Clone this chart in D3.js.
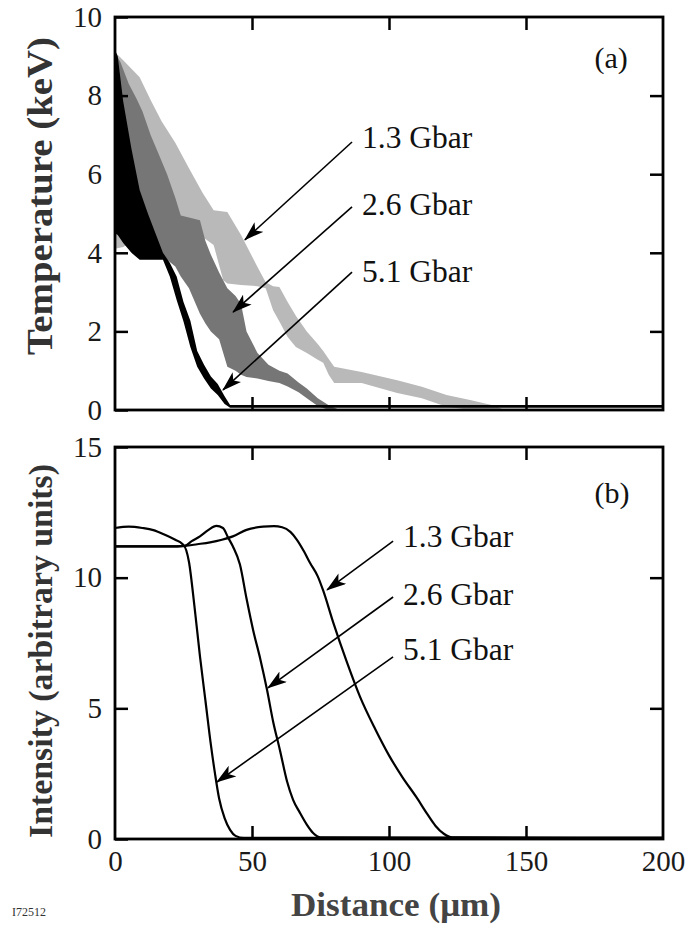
<!DOCTYPE html>
<html>
<head>
<meta charset="utf-8">
<script src="https://cdn.jsdelivr.net/npm/d3@7"></script>
<style>
body { margin: 0; background: #fff; }
svg { display: block; }
</style>
</head>
<body>
<script>
// (a) temperature bands, distance in um, temperature in keV
var band13Dist  = [0, 3, 9, 13, 17, 22, 27, 32, 36, 39.5, 41, 46, 52, 55, 57.7, 60, 63, 66, 70, 74, 76, 78, 80, 90, 103, 112, 121, 130, 139, 142];
var band13Upper = [9.1, 8.9, 8.47, 7.89, 7.35, 6.8, 6.15, 5.52, 5.08, 5.05, 5.04, 4.45, 3.64, 3.25, 3.15, 3.13, 2.75, 2.4, 2.0, 1.68, 1.5, 1.3, 1.1, 0.97, 0.76, 0.59, 0.38, 0.25, 0.1, 0];
var band13Lower = [4.1, 4.15, 4.4, 4.6, 4.7, 4.7, 4.6, 4.4, 4.2, 3.3, 3.22, 3.18, 3.15, 3.1, 2.54, 2.25, 1.86, 1.6, 1.45, 1.28, 1.2, 0.9, 0.69, 0.69, 0.43, 0.3, 0.08, 0, 0, 0];

var band26Dist  = [0, 2, 5, 8, 10, 13, 16, 19, 22, 24, 27, 31, 33, 35, 38, 41, 44, 46, 48, 52, 56, 60, 63, 67, 70, 74, 78, 82];
var band26Upper = [9.1, 8.85, 8.3, 7.9, 7.6, 7.0, 6.5, 6.0, 5.4, 4.95, 4.9, 4.83, 4.3, 3.95, 3.5, 3.1, 2.9, 2.7, 2.0, 1.45, 1.15, 1.0, 0.93, 0.7, 0.55, 0.3, 0.12, 0];
var band26Lower = [4.5, 4.45, 4.3, 4.15, 4.1, 4.0, 3.9, 3.82, 3.65, 3.4, 3.1, 2.45, 2.2, 2.0, 1.8, 1.1, 1.0, 0.9, 0.84, 0.8, 0.74, 0.69, 0.6, 0.45, 0.3, 0.1, 0, 0];

var band51Dist  = [0, 1, 3, 6, 9, 12, 15, 17.5, 20, 22.5, 25, 27.5, 30, 32.5, 35, 37.5, 40, 42, 200];
var band51Upper = [9.16, 9.0, 7.85, 6.65, 5.6, 5.0, 4.45, 4.0, 3.75, 3.4, 2.75, 2.27, 1.5, 1.15, 0.85, 0.66, 0.35, 0.13, 0.13];
var band51Lower = [4.5, 4.45, 4.25, 4.0, 3.82, 3.82, 3.82, 3.82, 3.4, 2.8, 2.25, 1.6, 1.1, 0.8, 0.55, 0.38, 0.15, 0.06, 0.06];

// (b) intensity profiles
var int13Dist = [0, 10, 20, 25.5, 30, 34.7, 39, 43, 48, 54, 58, 61, 64, 66.4, 69, 71.2, 74, 76, 79.6, 84.7, 89.4, 95, 100, 105, 110, 114, 117, 120, 123, 200];
var int13     = [11.2, 11.2, 11.2, 11.22, 11.28, 11.35, 11.45, 11.58, 11.83, 11.95, 11.97, 11.93, 11.75, 11.45, 11.0, 10.56, 10.05, 9.5, 8.3, 6.75, 5.45, 4.2, 3.2, 2.35, 1.6, 0.95, 0.5, 0.2, 0.06, 0.04];
var int26Dist = [0, 10, 20, 25.5, 28, 31, 34, 37, 39.4, 41.2, 43, 45.6, 48, 50.4, 53, 55.5, 57.7, 60.2, 62.8, 65, 67.5, 70, 72.3, 75, 200];
var int26     = [11.2, 11.2, 11.2, 11.22, 11.4, 11.58, 11.82, 11.98, 11.9, 11.55, 11.2, 10.5, 9.2, 8.0, 6.9, 5.7, 4.5, 3.4, 2.2, 1.5, 1.0, 0.55, 0.23, 0.06, 0.04];
var int51Dist = [0, 5, 10, 14, 18, 22, 24.5, 26, 27, 29, 31, 33, 35, 36.5, 38, 40, 42, 44, 47, 200];
var int51     = [11.9, 11.95, 11.9, 11.82, 11.65, 11.45, 11.3, 11.05, 10.6, 8.9, 7.0, 5.3, 3.6, 2.5, 1.55, 0.8, 0.35, 0.12, 0.04, 0.04];

var seriesNames = ["1.3 Gbar", "2.6 Gbar", "5.1 Gbar"];
var xTicks = [0, 50, 100, 150, 200];
var tempTicks = [0, 2, 4, 6, 8, 10];
var intTicks = [0, 5, 10, 15];

// arrow [startDist, startVal, tipDist, tipVal] per series
var tempArrows = [[86.5, 6.82, 47.4, 4.33], [86.5, 5.17, 43.1, 2.49], [86.5, 3.51, 39.4, 0.51]];
var tempLabelY = [6.67, 4.96, 3.26];
var intArrows = [[101.5, 11.4, 77.4, 9.53], [101.5, 9.26, 55.8, 5.78], [101.5, 6.97, 37.2, 2.18]];
var intLabelY = [11.17, 8.96, 6.85];

var W = 690, H = 939;
var left = 115, right = 663;
var serif = "'Liberation Serif', 'Times New Roman', serif";

var svg = d3.select("body").append("svg")
    .attr("width", W)
    .attr("height", H)
    .style("background", "#fff");

var defs = svg.append("defs");
defs.append("marker")
    .attr("id", "head")
    .attr("viewBox", "0 0 20 13")
    .attr("refX", 19)
    .attr("refY", 6.5)
    .attr("markerWidth", 20)
    .attr("markerHeight", 13)
    .attr("markerUnits", "userSpaceOnUse")
    .attr("orient", "auto")
  .append("path")
    .attr("d", "M0,0 L20,6.5 L0,13 L5,6.5 Z")
    .attr("fill", "#000");

var x = d3.scaleLinear().domain([0, 200]).range([left, right]);
var yT = d3.scaleLinear().domain([0, 10]).range([410, 17]);
var yI = d3.scaleLinear().domain([0, 15]).range([839, 447]);

function zip3(d, a, b) {
    return d.map(function(v, i) { return { d: v, hi: a[i], lo: b[i] }; });
}

// ---- panel (a)
var gA = svg.append("g");
var bands = [
    { data: zip3(band13Dist, band13Upper, band13Lower), fill: "#b9b9b9" },
    { data: zip3(band26Dist, band26Upper, band26Lower), fill: "#767676" },
    { data: zip3(band51Dist, band51Upper, band51Lower), fill: "#000" }
];
var area = d3.area()
    .x(function(d) { return x(d.d); })
    .y0(function(d) { return yT(d.lo); })
    .y1(function(d) { return yT(d.hi); });

gA.selectAll(".band")
  .data(bands)
.enter().append("path")
  .attr("class", "band")
  .attr("d", function(b) { return area(b.data); })
  .attr("fill", function(b) { return b.fill; });

// ---- panel (b)
var gB = svg.append("g");
var curves = [
    zip3(int13Dist, int13, int13),
    zip3(int26Dist, int26, int26),
    zip3(int51Dist, int51, int51)
];
var line = d3.line()
    .x(function(d) { return x(d.d); })
    .y(function(d) { return yI(d.hi); })
    .curve(d3.curveMonotoneX);

gB.selectAll(".curve")
  .data(curves)
.enter().append("path")
  .attr("class", "curve")
  .attr("d", line)
  .attr("fill", "none")
  .attr("stroke", "#000")
  .attr("stroke-width", 2.2);

function frame(g, y, ticks, showX) {
    var top = y.range()[1], bottom = y.range()[0];
    var inner = ticks.filter(function(t, i) { return i > 0 && i < ticks.length - 1; });

    g.append("g")
        .attr("transform", "translate(" + left + ",0)")
        .call(d3.axisLeft(y).tickValues(ticks).tickSize(-13).tickPadding(13).tickFormat(d3.format("d")));
    g.append("g")
        .attr("transform", "translate(" + right + ",0)")
        .call(d3.axisRight(y).tickValues(inner).tickSize(-13).tickFormat(""));
    g.append("g")
        .attr("transform", "translate(0," + top + ")")
        .call(d3.axisTop(x).tickValues([50, 100, 150]).tickSize(-13).tickFormat(""));
    var bx = g.append("g")
        .attr("transform", "translate(0," + bottom + ")")
        .call(d3.axisBottom(x).tickValues(showX ? xTicks : [50, 100, 150]).tickSize(-13).tickPadding(11)
              .tickFormat(showX ? d3.format("d") : ""));

    g.selectAll(".domain").remove();
    g.selectAll(".tick line").attr("stroke", "#000").attr("stroke-width", 2.5);
    g.selectAll(".tick text")
        .attr("font-family", serif)
        .attr("font-size", 29)
        .attr("fill", "#1a1a1a");
    if (showX) bx.selectAll(".tick line").filter(function(d) { return d == 0 || d == 200; }).remove();

    g.append("rect")
        .attr("x", left)
        .attr("y", top)
        .attr("width", right - left)
        .attr("height", bottom - top)
        .attr("fill", "none")
        .attr("stroke", "#000")
        .attr("stroke-width", 2.8);
}

frame(gA, yT, tempTicks, false);
frame(gB, yI, intTicks, true);

function annotate(g, y, arrows, labelY, tag, tagY) {
    g.selectAll(".arrow")
      .data(arrows)
    .enter().append("line")
      .attr("class", "arrow")
      .attr("x1", function(a) { return x(a[0]); })
      .attr("y1", function(a) { return y(a[1]); })
      .attr("x2", function(a) { return x(a[2]); })
      .attr("y2", function(a) { return y(a[3]); })
      .attr("stroke", "#000")
      .attr("stroke-width", 1.6)
      .attr("marker-end", "url(#head)");

    g.selectAll(".lbl")
      .data(seriesNames)
    .enter().append("text")
      .attr("class", "lbl")
      .attr("x", function(d, i) { return x(arrows[i][0]) + 10; })
      .attr("y", function(d, i) { return y(labelY[i]); })
      .attr("font-family", serif)
      .attr("font-size", 31.5)
      .attr("fill", "#111")
      .text(function(d) { return d; });

    g.append("text")
        .attr("x", x(175))
        .attr("y", y(tagY))
        .attr("font-family", serif)
        .attr("font-size", 30)
        .attr("fill", "#111")
        .text(tag);
}

annotate(gA, yT, tempArrows, tempLabelY, "(a)", 8.7);
annotate(gB, yI, intArrows, intLabelY, "(b)", 12.86);

// axis titles
svg.append("text")
    .attr("transform", "translate(52,196) rotate(-90)")
    .attr("text-anchor", "middle")
    .attr("font-family", serif)
    .attr("font-weight", "bold")
    .attr("font-size", 35)
    .attr("textLength", 318)
    .attr("lengthAdjust", "spacingAndGlyphs")
    .attr("fill", "#333")
    .text("Temperature (keV)");

svg.append("text")
    .attr("transform", "translate(52,651) rotate(-90)")
    .attr("text-anchor", "middle")
    .attr("font-family", serif)
    .attr("font-weight", "bold")
    .attr("font-size", 34)
    .attr("textLength", 374)
    .attr("lengthAdjust", "spacingAndGlyphs")
    .attr("fill", "#333")
    .text("Intensity (arbitrary units)");

svg.append("text")
    .attr("x", 396)
    .attr("y", 916)
    .attr("text-anchor", "middle")
    .attr("font-family", serif)
    .attr("font-weight", "bold")
    .attr("font-size", 34)
    .attr("textLength", 210)
    .attr("lengthAdjust", "spacingAndGlyphs")
    .attr("fill", "#444")
    .text("Distance (\u03bcm)");

svg.append("text")
    .attr("x", 12)
    .attr("y", 916)
    .attr("font-family", serif)
    .attr("font-size", 12)
    .attr("fill", "#333")
    .text("I72512");
</script>
</body>
</html>
